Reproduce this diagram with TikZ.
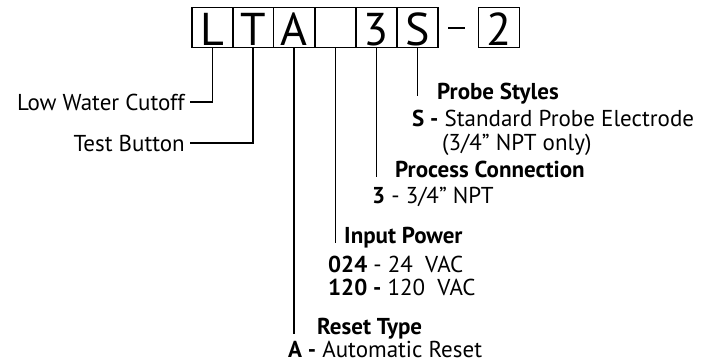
\documentclass[tikz,border=0pt]{standalone}
\usepackage{fontspec}
\setmainfont{PT Sans}
\usetikzlibrary{positioning}

\begin{document}
\begin{tikzpicture}[x=1pt, y=-1pt,
  code/.style={draw, line width=1.3pt, minimum width=41pt, minimum height=40pt, inner sep=0pt,
    text height=38pt, text depth=2pt, font=\fontsize{46}{46}\selectfont},
  lab/.style={inner sep=0pt, font=\fontsize{23}{24}\selectfont},
  head/.style={lab, font=\fontsize{23}{24}\selectfont\bfseries},
  lead/.style={line width=1.6pt}]
\useasboundingbox (0,0) rectangle (707,364);
% model code boxes
\node[code] (bL) at (212.5,27.5) {L};
\node[code] (bT) at (253,27.5) {T};
\node[code] (bA) at (294,27.5) {A};
\node[code] (bB) at (335.5,27.5) {};
\node[code] (b3) at (376.5,27.5) {3};
\node[code] (bS) at (417.5,27.5) {S};
\node[inner sep=0pt] (dash) at (456.5,28) {\rule{17pt}{1.7pt}};
\node[code] (b2) at (499,27.5) {2};
% labels on the left
\node[lab, anchor=base east] (lwc) at (185,110) {Low Water Cutoff};
\node[lab, anchor=base east] (tb) at (185,151) {Test Button};
% probe styles
\node[head, anchor=base west] (hProbe) at (437,99) {Probe Styles};
\node[lab, anchor=base west] (oS) at (412,126) {\textbf{S -} Standard Probe Electrode};
\node[lab, anchor=base west] (oS2) at (442,150) {(3/4” NPT only)};
% process connection
\node[head, anchor=base west] (hProc) at (395,177) {Process Connection};
\node[lab, anchor=base west] (o3) at (372,203) {\textbf{3} - 3/4” NPT};
% input power
\node[head, anchor=base west] (hPow) at (344,243) {Input Power};
\node[lab, anchor=base west] (o24) at (328,272) {\textbf{024} - 24\ \ VAC};
\node[lab, anchor=base west] (o120) at (328,295) {\textbf{120 -} 120\ \ VAC};
% reset type
\node[head, anchor=base west] (hReset) at (317,334) {Reset Type};
\node[lab, anchor=base west] (oA) at (288,357) {\textbf{A -} Automatic Reset};
% leaders
\coordinate (eS) at (bS.south |- hProbe.base);
\coordinate (e3) at (b3.south |- hProc.base);
\coordinate (eB) at (bB.south |- hPow.base);
\coordinate (eA) at (bA.south |- hReset.base);
\draw[lead] (bL.south) |- ([xshift=5pt]lwc.east);
\draw[lead] (bT.south) |- ([xshift=5pt]tb.east);
\draw[lead] (bS.south) -- ([yshift=3pt]eS);
\draw[lead] (b3.south) -- (e3);
\draw[lead] (bB.south) -- (eB);
\draw[lead] (bA.south) -- (eA);
\end{tikzpicture}
\end{document}
